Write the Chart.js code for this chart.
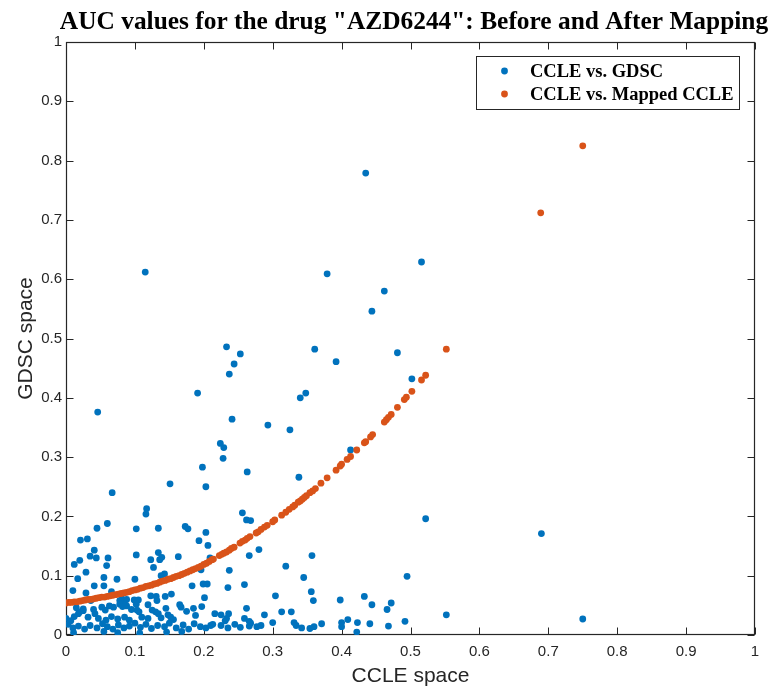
<!DOCTYPE html>
<html>
<head>
<meta charset="utf-8">
<script src="https://cdn.jsdelivr.net/npm/chart.js@4.4.0/dist/chart.umd.min.js"></script>
<style>
  html, body { margin: 0; padding: 0; background: #fff; }
  #wrap { width: 771px; height: 691px; }
</style>
</head>
<body>
<div id="wrap"><canvas id="auc" width="771" height="691"></canvas></div>
<script>
// CCLE vs. GDSC (blue)
const ccleX = [
  0.115,0.233,0.253,0.244,0.237,0.191,0.046,0.241,0.293,0.325,
  0.340,0.348,0.224,0.229,0.228,0.198,0.263,0.151,0.203,0.338,
  0.516,0.379,0.462,0.444,0.361,0.481,0.392,0.502,0.413,0.435,
  0.067,0.117,0.116,0.060,0.173,0.177,0.045,0.102,0.134,0.203,
  0.193,0.031,0.021,0.206,0.041,0.134,0.102,0.035,0.044,0.061,
  0.163,0.123,0.136,0.139,0.020,0.012,0.059,0.127,0.029,0.143,
  0.196,0.237,0.055,0.017,0.074,0.100,0.138,0.055,0.041,0.183,
  0.199,0.205,0.235,0.010,0.029,0.066,0.123,0.131,0.144,0.153,
  0.201,0.209,
  0.256,0.262,0.268,0.266,0.280,0.357,0.319,0.259,0.345,0.356,
  0.359,0.304,0.262,0.313,0.327,0.288,0.236,0.259,0.266,0.268,
  0.266,0.300,0.331,0.334,0.342,0.354,0.360,0.371,0.253,0.277,
  0.283,0.398,0.433,0.444,0.466,0.472,0.400,0.400,0.409,0.423,
  0.422,0.441,0.468,
  0.522,0.690,0.495,0.552,0.492,0.750,
  0.036,0.078,0.081,0.085,0.088,0.099,0.105,0.132,0.119,
  0.015,0.025,0.040,0.052,0.057,0.063,0.069,0.078,0.082,0.088,
  0.095,0.102,0.125,0.130,0.134,0.103,0.106,0.165,0.167,0.197,
  0.145,0.175,0.185,
  0.000,0.007,0.012,0.020,0.025,0.018,0.032,0.042,0.047,0.058,
  0.066,0.075,0.085,0.092,0.110,0.119,0.148,0.152,0.156,0.188,
  0.138,0.225,0.216,0.231,0.233,
  0.003,0.010,0.018,0.027,0.035,0.045,0.053,0.060,0.068,0.076,
  0.084,0.092,0.100,0.108,0.116,0.124,0.133,0.143,0.150,0.160,
  0.170,0.178,0.186,0.195,0.203,0.210,0.213,0.225,0.235,0.245,
  0.011,0.055,0.075,0.107,0.146,0.168
];
const gdscY = [
  0.612,0.486,0.474,0.457,0.440,0.408,0.376,0.364,0.354,0.346,
  0.400,0.408,0.323,0.316,0.298,0.283,0.275,0.255,0.250,0.266,
  0.629,0.609,0.580,0.546,0.482,0.476,0.461,0.432,0.312,0.779,
  0.240,0.213,0.204,0.188,0.183,0.179,0.180,0.179,0.180,0.173,
  0.159,0.162,0.160,0.151,0.143,0.139,0.135,0.133,0.130,0.130,
  0.132,0.127,0.127,0.131,0.126,0.119,0.117,0.114,0.106,0.103,
  0.110,0.109,0.097,0.095,0.094,0.094,0.100,0.083,0.083,0.083,
  0.086,0.086,0.080,0.075,0.071,0.073,0.066,0.065,0.065,0.069,
  0.063,0.130,
  0.206,0.194,0.193,0.134,0.144,0.134,0.116,0.085,0.097,0.073,
  0.058,0.066,0.045,0.039,0.039,0.034,0.036,0.028,0.023,0.020,
  0.015,0.021,0.021,0.016,0.012,0.011,0.014,0.019,0.013,0.014,
  0.016,0.059,0.065,0.051,0.043,0.054,0.021,0.014,0.026,0.021,
  0.005,0.019,0.015,
  0.196,0.171,0.099,0.034,0.023,0.027,
  0.058,0.058,0.061,0.057,0.060,0.059,0.059,0.058,0.051,
  0.046,0.044,0.043,0.047,0.042,0.049,0.047,0.052,0.048,0.049,
  0.043,0.052,0.042,0.039,0.036,0.042,0.039,0.051,0.047,0.048,
  0.045,0.040,0.045,
  0.028,0.024,0.031,0.039,0.041,0.036,0.030,0.036,0.028,0.025,
  0.031,0.027,0.030,0.025,0.030,0.028,0.034,0.030,0.026,0.033,
  0.029,0.034,0.036,0.024,0.028,
  0.018,0.012,0.015,0.010,0.016,0.012,0.019,0.014,0.010,0.017,
  0.012,0.015,0.020,0.013,0.018,0.011,0.016,0.014,0.020,0.012,
  0.017,0.010,0.019,0.014,0.012,0.016,0.018,0.016,0.012,0.018,
  0.004,0.006,0.004,0.003,0.005,0.006
];

// CCLE vs. Mapped CCLE (orange)
const mappedX = [
  0.000,0.004,0.008,0.012,0.016,0.020,0.024,0.028,0.032,0.036,
  0.040,0.044,0.048,0.052,0.056,0.060,0.064,0.068,0.072,0.076,
  0.080,0.084,0.088,0.092,0.096,0.100,0.104,0.108,0.112,0.116,
  0.120,0.124,0.128,0.132,0.136,0.140,0.144,0.148,0.152,0.156,
  0.160,0.164,0.168,0.172,0.176,0.180,0.184,0.188,0.192,0.196,
  0.200,0.204,0.208,0.212,
  0.214,0.2225,0.226,0.229,0.233,0.237,0.240,0.244,0.2525,0.256,
  0.260,0.263,0.267,0.276,0.279,0.283,0.288,0.292,0.300,0.303,
  0.313,0.319,0.324,0.329,0.332,0.337,0.340,0.343,0.346,0.349,
  0.354,0.358,0.362,0.370,0.379,0.392,0.398,0.400,0.408,0.413,
  0.422,0.433,0.435,0.442,0.445,0.462,0.465,0.468,0.472,0.481,
  0.491,0.494,0.502,0.516,0.522,0.552,0.689,0.750
];
const mappedY = [
  0.054,0.055,0.055,0.056,0.056,0.057,0.058,0.059,0.060,0.060,
  0.061,0.062,0.063,0.064,0.064,0.065,0.066,0.067,0.068,0.069,
  0.070,0.071,0.072,0.073,0.075,0.076,0.077,0.079,0.080,0.082,
  0.083,0.084,0.086,0.087,0.089,0.091,0.092,0.094,0.095,0.097,
  0.099,0.100,0.102,0.104,0.106,0.108,0.110,0.112,0.114,0.116,
  0.119,0.121,0.124,0.127,
  0.128,0.134,0.136,0.138,0.140,0.143,0.146,0.148,0.155,0.158,
  0.160,0.163,0.166,0.172,0.174,0.178,0.182,0.185,0.191,0.194,
  0.202,0.207,0.212,0.216,0.219,0.224,0.226,0.229,0.232,0.235,
  0.240,0.243,0.247,0.256,0.265,0.278,0.285,0.288,0.296,0.301,
  0.312,0.324,0.326,0.334,0.338,0.359,0.363,0.367,0.372,0.384,
  0.397,0.401,0.411,0.430,0.438,0.482,0.712,0.825
];

const tickValues = [0, 0.1, 0.2, 0.3, 0.4, 0.5, 0.6, 0.7, 0.8, 0.9, 1];
const seriesLabels = ['CCLE vs. GDSC', 'CCLE vs. Mapped CCLE'];
const seriesColors = ['#0072BD', '#D95319'];

const axisColor = '#262626';
const tickFont = { family: '"Liberation Sans", Arial, sans-serif', size: 15 };
const labelFont = { family: '"Liberation Sans", Arial, sans-serif', size: 21 };

function fmtTick(v) {
  if (v === 0) return '0';
  if (v === 1) return '1';
  return v.toFixed(1);
}

// MATLAB-like box with inward ticks on all four sides
const framePlugin = {
  id: 'frame',
  beforeDatasetsDraw(chart) {
    const { ctx, chartArea: a, scales } = chart;
    const L = Math.round(a.left) + 0.5, R = Math.round(a.right) - 0.5;
    const T = Math.round(a.top) + 0.5, B = Math.round(a.bottom) - 0.5;
    ctx.save();
    ctx.strokeStyle = axisColor;
    ctx.lineWidth = 1;
    ctx.beginPath();
    tickValues.forEach(v => {
      const px = Math.round(scales.x.getPixelForValue(v)) + 0.5;
      ctx.moveTo(px, B); ctx.lineTo(px, B - 7);
      ctx.moveTo(px, T); ctx.lineTo(px, T + 7);
      const py = Math.round(scales.y.getPixelForValue(v)) + 0.5;
      ctx.moveTo(L, py); ctx.lineTo(L + 7, py);
      ctx.moveTo(R, py); ctx.lineTo(R - 7, py);
    });
    ctx.stroke();
    ctx.lineWidth = 1.2;
    ctx.strokeRect(L, T, R - L, B - T);
    ctx.restore();
  }
};

const titleLegendPlugin = {
  id: 'titleLegend',
  afterDatasetsDraw(chart) {
    const { ctx } = chart;
    ctx.save();
    ctx.fillStyle = '#000';
    ctx.font = 'bold 25.4px "Liberation Serif", "Times New Roman", serif';
    ctx.textAlign = 'center';
    ctx.textBaseline = 'alphabetic';
    ctx.fillText('AUC values for the drug "AZD6244": Before and After Mapping', 414, 29);

    // legend box
    ctx.fillStyle = '#fff';
    ctx.fillRect(476.5, 56.5, 263, 53);
    ctx.strokeStyle = axisColor;
    ctx.lineWidth = 1;
    ctx.strokeRect(476.5, 56.5, 263, 53);
    ctx.font = 'bold 18.5px "Liberation Serif", "Times New Roman", serif';
    ctx.textAlign = 'left';
    seriesLabels.forEach((lbl, i) => {
      const cy = 71 + i * 23;
      ctx.fillStyle = seriesColors[i];
      ctx.beginPath();
      ctx.arc(504.5, cy, 3.4, 0, Math.PI * 2);
      ctx.fill();
      ctx.fillStyle = '#000';
      ctx.fillText(lbl, 530, cy + 6);
    });
    ctx.restore();
  }
};

new Chart(document.getElementById('auc'), {
  type: 'scatter',
  data: {
    datasets: [
      {
        label: seriesLabels[0],
        data: ccleX.map((x, i) => ({ x, y: gdscY[i] })),
        backgroundColor: seriesColors[0],
        borderWidth: 0,
        pointRadius: 3.4,
        pointHoverRadius: 3.4,
        order: 2
      },
      {
        label: seriesLabels[1],
        data: mappedX.map((x, i) => ({ x, y: mappedY[i] })),
        backgroundColor: seriesColors[1],
        borderWidth: 0,
        pointRadius: 3.4,
        pointHoverRadius: 3.4,
        order: 1
      }
    ]
  },
  options: {
    responsive: false,
    animation: false,
    devicePixelRatio: 1,
    layout: { padding: { top: 42, right: 16, left: 0, bottom: 0 } },
    plugins: { legend: { display: false }, tooltip: { enabled: false } },
    scales: {
      x: {
        type: 'linear', min: 0, max: 1,
        afterBuildTicks(s) { s.ticks = tickValues.map(v => ({ value: v })); },
        afterFit(s) { s.height = 56; },
        grid: { display: false, drawTicks: false },
        border: { display: false },
        ticks: { color: axisColor, font: tickFont, padding: 8, maxRotation: 0, callback: fmtTick },
        title: { display: true, text: 'CCLE space', color: axisColor, font: labelFont, padding: { top: 0, bottom: 2 } }
      },
      y: {
        type: 'linear', min: 0, max: 1,
        afterBuildTicks(s) { s.ticks = tickValues.map(v => ({ value: v })); },
        afterFit(s) { s.width = 66; },
        grid: { display: false, drawTicks: false },
        border: { display: false },
        ticks: { color: axisColor, font: tickFont, padding: 4, callback: fmtTick },
        title: { display: true, text: 'GDSC space', color: axisColor, font: labelFont, padding: { top: 14, bottom: 0 } }
      }
    }
  },
  plugins: [framePlugin, titleLegendPlugin]
});
</script>
</body>
</html>
